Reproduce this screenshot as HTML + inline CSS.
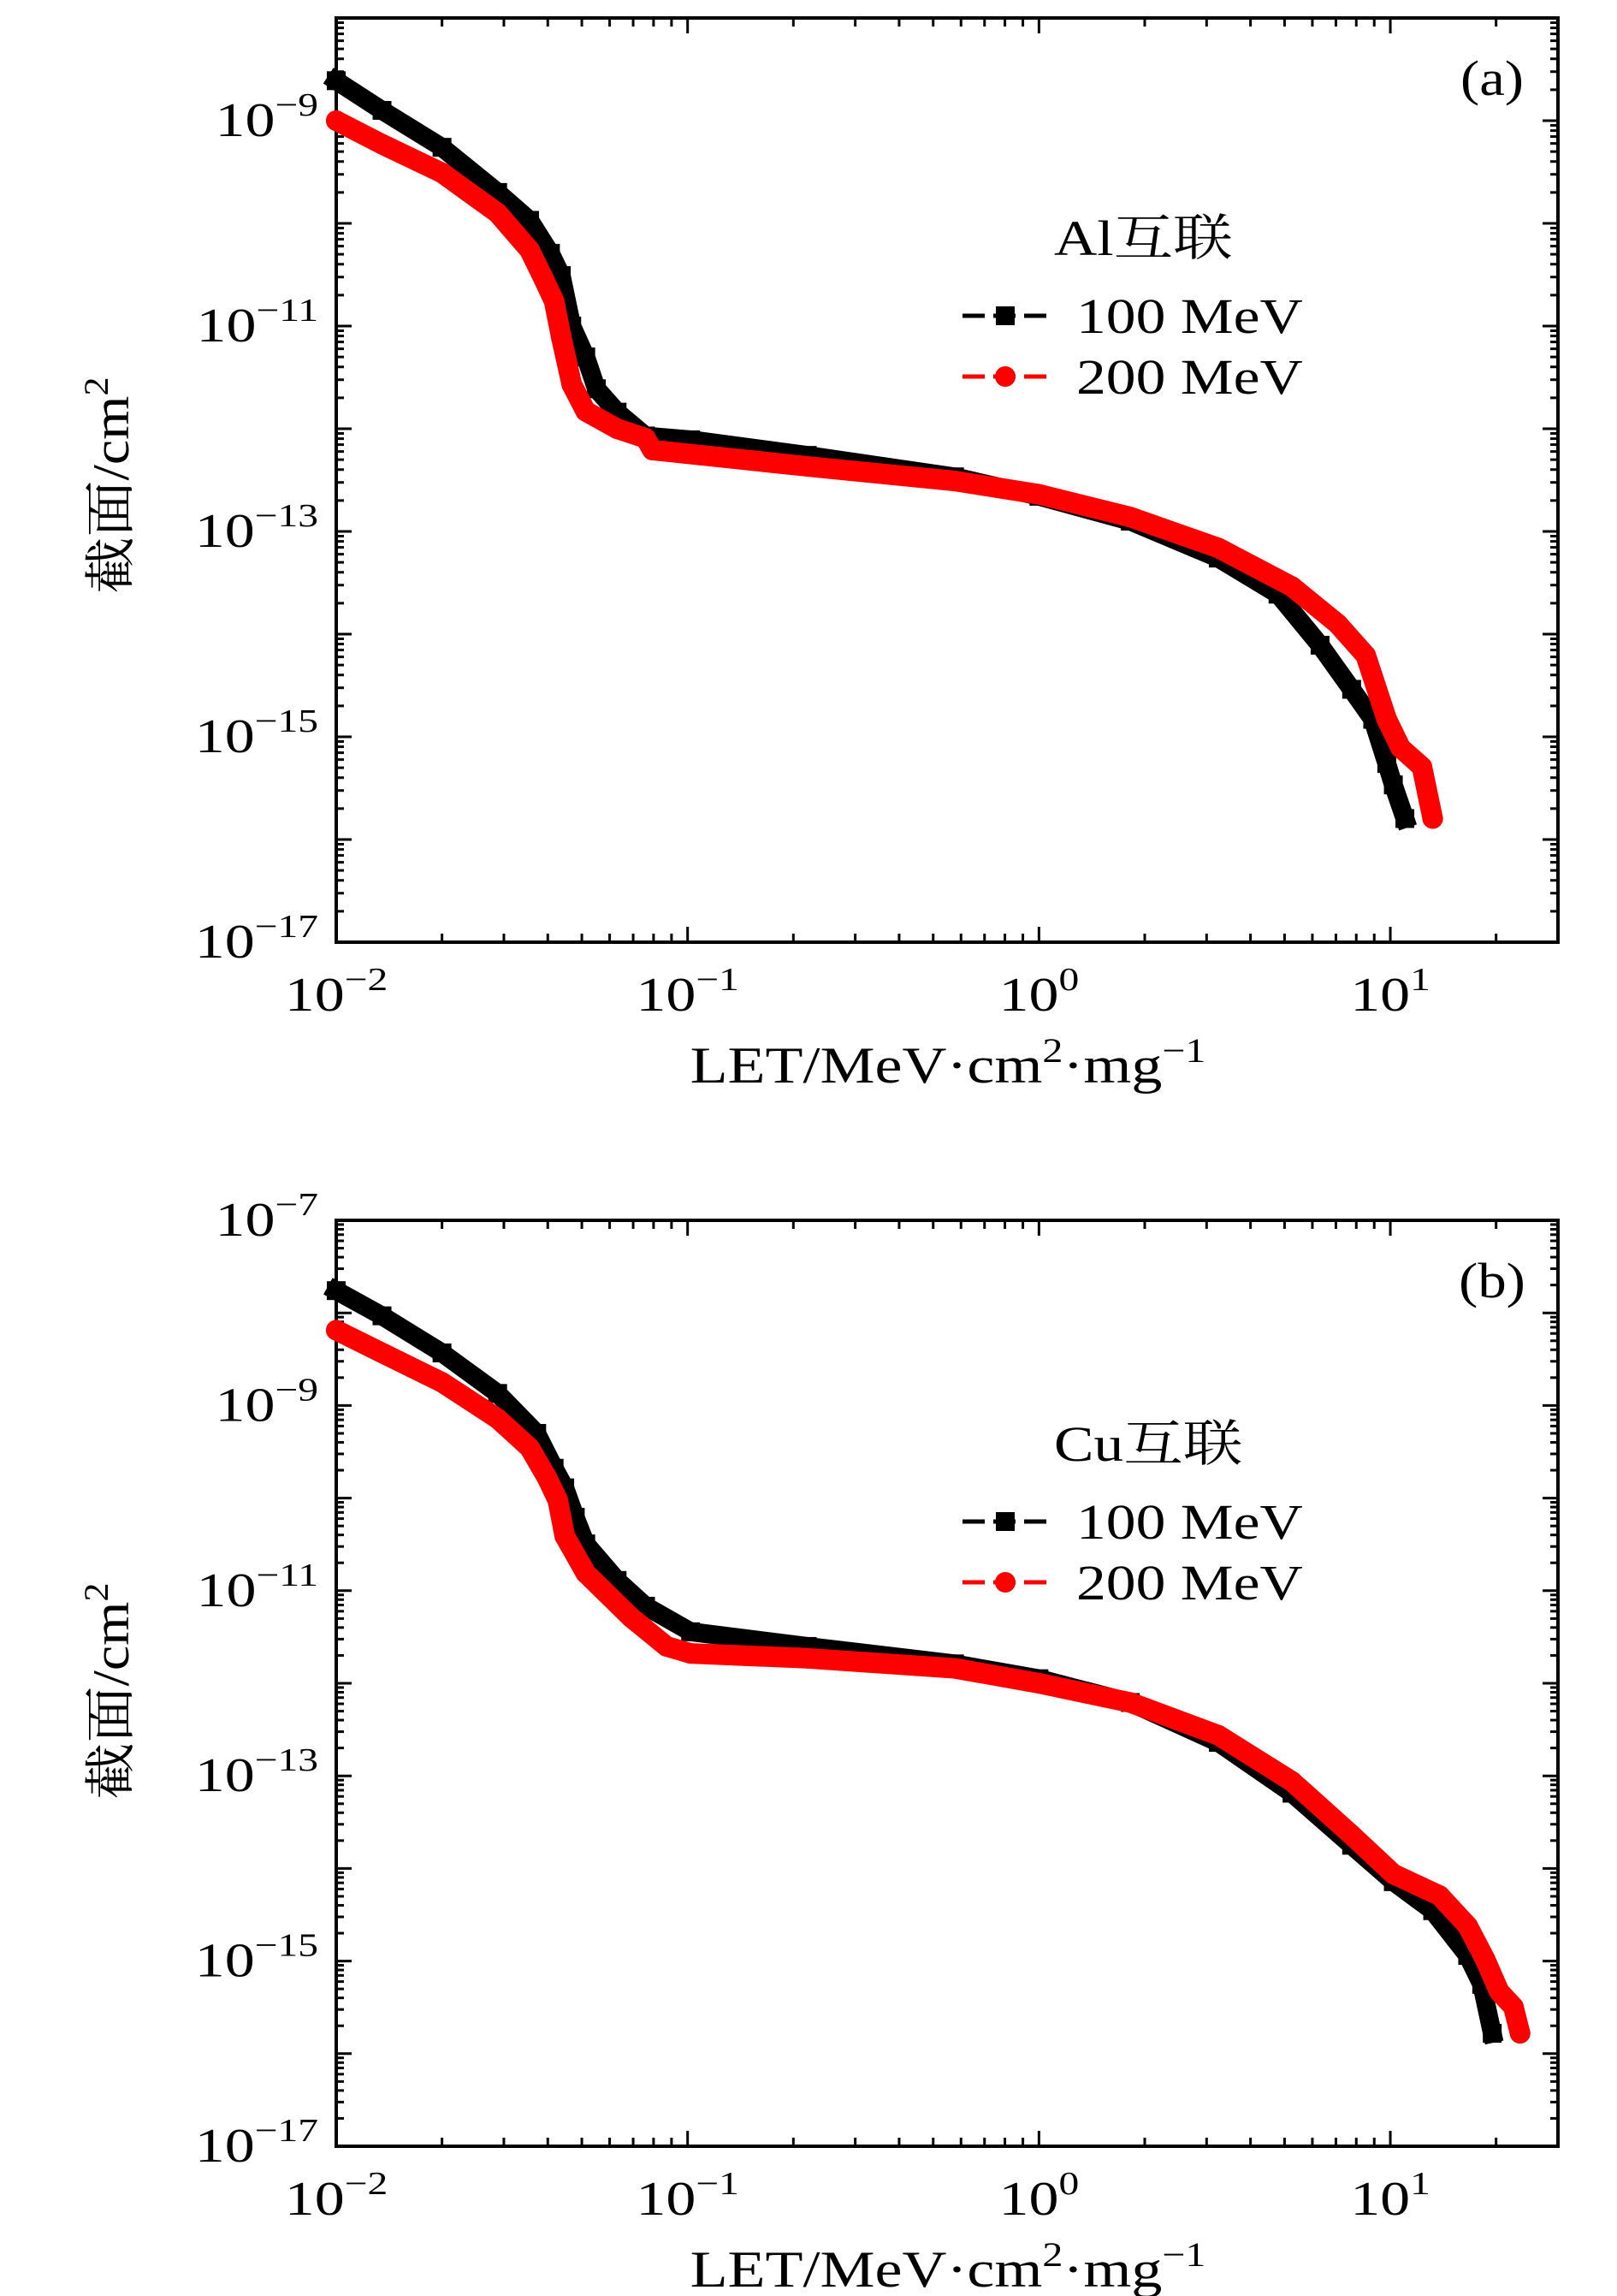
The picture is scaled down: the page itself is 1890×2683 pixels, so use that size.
<!DOCTYPE html>
<html><head><meta charset="utf-8">
<style>
html,body{margin:0;padding:0;background:#fff;}
svg{display:block;}
text{font-family:"Liberation Serif","Noto Serif CJK SC","Noto Sans CJK SC",serif;fill:#000;}
</style></head>
<body>
<svg id="fig" width="1890" height="2683" viewBox="0 0 1890 2683" xmlns="http://www.w3.org/2000/svg"></svg>
<script>
// Panel (a) Al interconnect
const aLet100 = [0.01,0.0135,0.020,0.0288,0.0355,0.0407,0.0437,0.0468,0.0513,0.055,0.063,0.0759,0.102,0.219,0.575,1,1.82,3.24,4.79,6.31,7.76,8.91,9.77,10.2,11.0];
const aSig100 = [2.45e-9,1.26e-9,5.5e-10,2.0e-10,1.07e-10,5.1e-11,3.1e-11,1.0e-11,5.0e-12,2.45e-12,1.45e-12,8.5e-13,7.8e-13,5.5e-13,3.4e-13,2.2e-13,1.26e-13,5.5e-14,2.45e-14,7.8e-15,2.9e-15,1.48e-15,5.5e-16,3.4e-16,1.6e-16];
const aLet200 = [0.01,0.0135,0.020,0.0288,0.0355,0.0389,0.0417,0.0437,0.0468,0.0513,0.063,0.0759,0.0794,0.219,0.575,1,1.82,3.24,5.25,7.08,8.51,9.77,10.7,12.3,13.2];
const aSig200 = [1.0e-9,5.9e-10,3.1e-10,1.26e-10,5.5e-11,2.9e-11,1.74e-11,7.8e-12,2.7e-12,1.48e-12,1.0e-12,8.1e-13,6.2e-13,4.3e-13,3.1e-13,2.3e-13,1.38e-13,6.9e-14,2.9e-14,1.26e-14,6.2e-15,1.48e-15,7.8e-16,5.1e-16,1.6e-16];
// Panel (b) Cu interconnect
const bLet100 = [0.01,0.0135,0.020,0.0288,0.0372,0.0417,0.0447,0.0479,0.0513,0.063,0.0759,0.102,0.219,0.575,1,1.82,3.24,5.25,7.76,10.2,13.2,16.6,18.2,19.5];
const bSig100 = [1.74e-8,9.3e-9,3.7e-9,1.35e-9,5.0e-10,2.1e-10,1.29e-10,6.2e-11,3.2e-11,1.29e-11,6.8e-12,3.6e-12,2.5e-12,1.62e-12,1.12e-12,6.2e-13,2.3e-13,6.5e-14,1.78e-14,7.2e-15,3.5e-15,1.15e-15,5.6e-16,1.66e-16];
const bLet200 = [0.01,0.0135,0.020,0.0288,0.0355,0.0398,0.0427,0.0447,0.0513,0.0692,0.0871,0.102,0.219,0.575,1,1.82,3.24,5.25,7.76,10.2,13.8,16.6,18.6,20.4,22.4,23.4];
const bSig200 = [6.5e-9,3.7e-9,1.78e-9,7.2e-10,3.5e-10,1.66e-10,9.5e-11,3.9e-11,1.55e-11,5.1e-12,2.5e-12,2.1e-12,1.86e-12,1.45e-12,1.0e-12,6.2e-13,2.75e-13,8.7e-14,2.3e-14,8.7e-15,5.1e-15,2.4e-15,1.05e-15,4.7e-16,3.2e-16,1.66e-16];
const xTickExps = [-2,-1,0,1];
const yLabelExpsA = [-17,-15,-13,-11,-9];
const yLabelExpsB = [-17,-15,-13,-11,-9,-7];

const NS="http://www.w3.org/2000/svg";
const svg=document.getElementById('fig');
function mk(tag,attrs,parent){const e=document.createElementNS(NS,tag);for(const k in attrs)e.setAttribute(k,attrs[k]);(parent||svg).appendChild(e);return e;}
function txt(parent,x,y,size,sx,anchor,html){
  const t=mk('text',{x:0,y:0,'font-size':size,'text-anchor':anchor,transform:'translate('+x+','+y+') scale('+sx+',1)'},parent);
  t.innerHTML=html;return t;
}

function panel(cfg){
  const g=mk('g',{});
  
  
  const L=393,R=1821,T=cfg.top,B=cfg.bottom;
  const xmin=-2,xmax=Math.log10(30);
  const sx=v=>L+(Math.log10(v)-xmin)/(xmax-xmin)*(R-L);
  const sy=v=>B-(Math.log10(v)-cfg.ymin)/(cfg.ymax-cfg.ymin)*(B-T);
  const tg=mk('g',{stroke:'#000','stroke-width':3},g);
  
  
  for(let e=-2;e<=1;e++){for(let m=1;m<=9;m++){const v=m*Math.pow(10,e);if(v>30)break;const x=sx(v);const len=m===1?18:10;
    mk('line',{x1:x,y1:B,x2:x,y2:B-len},tg);mk('line',{x1:x,y1:T,x2:x,y2:T+len},tg);}}
  for(let e=cfg.ymin;e<cfg.ymax;e++){for(let m=1;m<=9;m++){const v=m*Math.pow(10,e);const y=sy(v);const len=m===1?18:9;
    mk('line',{x1:L,y1:y,x2:L+len,y2:y},tg);mk('line',{x1:R,y1:y,x2:R-len,y2:y},tg);}}
  const fr=mk('rect',{x:L,y:T,width:R-L,height:B-T,fill:'none',stroke:'#000','stroke-width':4},g);
  
  
  xTickExps.forEach(e=>{
    const t=txt(g,sx(Math.pow(10,e)),B+80,56,1.25,'middle','10<tspan dy="-24" font-size="38">'+(e<0?'\u2212'+(-e):e)+'</tspan>');
    
    
  });
  cfg.yLabels.forEach(e=>{
    const t=txt(g,372,sy(Math.pow(10,e))+18,56,1.25,'end','10<tspan dy="-24" font-size="38">\u2212'+(-e)+'</tspan>');
    
    
  });
  const xt=txt(g,1108,cfg.xTitleY,60,1.2,'middle','LET/MeV·cm<tspan dy="-24" font-size="40">2</tspan><tspan dy="24">·mg</tspan><tspan dy="-24" font-size="40">\u22121</tspan>');
  
  
  const yt=mk('text',{x:0,y:0,'text-anchor':'middle','font-size':60,transform:'translate(150,'+cfg.yTitleY+') rotate(-90) scale(1.1,1)'},g);
  
  
  yt.innerHTML='截面/cm<tspan dy="-24" font-size="40">2</tspan>';
  function series(xs,ys,color,shape,name){
    const sg=mk('g',{},g);
    
    
    const pts=xs.map((x,i)=>sx(x).toFixed(1)+','+sy(ys[i]).toFixed(1)).join(' ');
    mk('polyline',{points:pts,fill:'none',stroke:color,'stroke-width':shape==='sq'?22:24,'stroke-linejoin':'round','stroke-linecap':shape==='sq'?'square':'round'},sg);
    mk('polyline',{points:pts,fill:'none',stroke:color,'stroke-width':3},sg);
    xs.forEach((x,i)=>{const px=sx(x),py=sy(ys[i]);let m;
      if(shape==='sq')m=mk('rect',{x:px-11,y:py-11,width:22,height:22,fill:color},sg);
      else m=mk('circle',{cx:px,cy:py,r:12,fill:color},sg);
      
      });
  }
  series(cfg.x100,cfg.s100,'#000','sq','series-100mev');
  series(cfg.x200,cfg.s200,'#ff0000','ci','series-200mev');
  const pl=txt(g,1744,cfg.top+90,58,1.15,'middle',cfg.label);
  
  
  const lg=mk('g',{},g);
  
  
  const lt=txt(lg,1232,cfg.legY+20,58,1.2,'start',cfg.legTitle);
  
  
  [['#000','sq','100 MeV',cfg.legY+91],['#ff0000','ci','200 MeV',cfg.legY+162]].forEach(d=>{
    const eg=mk('g',{},lg);
    
    
    mk('line',{x1:1125,y1:d[3],x2:1225,y2:d[3],stroke:d[0],'stroke-width':5,'stroke-dasharray':'26,10'},eg);
    if(d[1]==='sq')mk('rect',{x:1164,y:d[3]-11,width:22,height:22,fill:d[0]},eg);
    else mk('circle',{cx:1175,cy:d[3],r:12,fill:d[0]},eg);
    txt(eg,1258,d[3]+20,58,1.2,'start',d[2]);
  });
}
panel({name:'panel-a-al',top:21,bottom:1101,ymin:-17,ymax:-8,yLabels:yLabelExpsA,xTitleY:1265,yTitleY:567,
  x100:aLet100,s100:aSig100,x200:aLet200,s200:aSig200,label:'(a)',legTitle:'Al互联',legY:278});
panel({name:'panel-b-cu',top:1426,bottom:2508,ymin:-17,ymax:-7,yLabels:yLabelExpsB,xTitleY:2672,yTitleY:1976,
  x100:bLet100,s100:bSig100,x200:bLet200,s200:bSig200,label:'(b)',legTitle:'Cu互联',legY:1687});
</script>
</body></html>
